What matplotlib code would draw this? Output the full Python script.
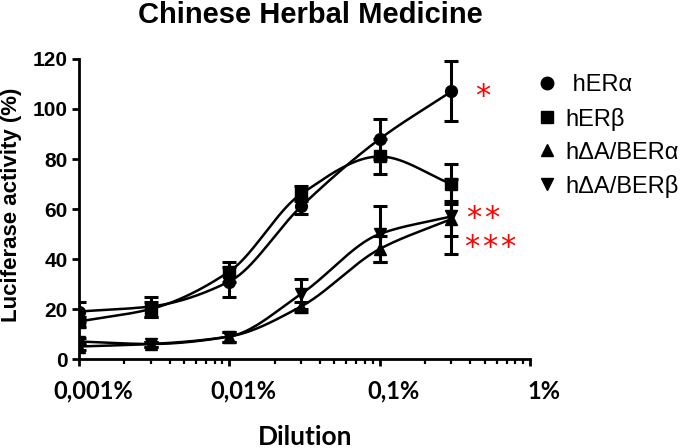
import numpy as np
import matplotlib
matplotlib.use("Agg")
import matplotlib.pyplot as plt
import matplotlib.transforms as mtransforms
from matplotlib.lines import Line2D

plt.rcParams['font.family'] = ['Liberation Sans', 'DejaVu Sans']

# ---------------- data ----------------
dilution = [0.001, 0.003, 0.01, 0.03, 0.1, 0.3]
series_names = [" hERα", "hERβ", "hΔA/BERα", "hΔA/BERβ"]
hERa_mean = [19, 21, 31, 61, 88, 107]
hERa_err = [4, 4, 6, 3, 8, 12]
hERb_mean = [15, 20, 35, 66, 81, 70]
hERb_err = [2, 3, 4, 3, 7, 8]
hdAa_mean = [5, 6, 9, 21, 44, 56]
hdAa_err = [1.5, 1, 2, 2, 5, 7]
hdAb_mean = [7, 6, 9, 26, 50, 57]
hdAb_err = [1.5, 1, 2, 6, 11, 15]
markers = ["o", "s", "^", "v"]
xtick_vals = [0.001, 0.01, 0.1, 1]
xtick_labels = ["0,001%", "0,01%", "0,1%", "1%"]
yticks = [0, 20, 40, 60, 80, 100, 120]
sig_counts = [1, 2, 3]          # number of asterisks
sig_y = [108.6, 59.8, 48.2]
sig_first_dx_px = [31, 22, 20]  # offset of first asterisk from the last point
sig_pitch_px = 18


def pchip(xk, yk, xn):
    xk = np.asarray(xk, float); yk = np.asarray(yk, float)
    h = np.diff(xk); d = np.diff(yk) / h
    n = len(xk); m = np.zeros(n)
    for k in range(1, n - 1):
        if d[k - 1] * d[k] <= 0:
            m[k] = 0
        else:
            w1 = 2 * h[k] + h[k - 1]; w2 = h[k] + 2 * h[k - 1]
            m[k] = (w1 + w2) / (w1 / d[k - 1] + w2 / d[k])
    m[0] = d[0]; m[-1] = d[-1]
    out = np.empty_like(xn)
    idx = np.clip(np.searchsorted(xk, xn) - 1, 0, n - 2)
    for j, (x, i) in enumerate(zip(xn, idx)):
        t = (x - xk[i]) / h[i]
        h00 = 2 * t**3 - 3 * t**2 + 1; h10 = t**3 - 2 * t**2 + t
        h01 = -2 * t**3 + 3 * t**2; h11 = t**3 - t**2
        out[j] = h00 * yk[i] + h10 * h[i] * m[i] + h01 * yk[i + 1] + h11 * h[i] * m[i + 1]
    return out


W, H = 685, 448
fig = plt.figure(figsize=(W / 100, H / 100), dpi=100)
ax = fig.add_axes([79 / W, (H - 359) / H, (530 - 79) / W, 300 / H])

means = [hERa_mean, hERb_mean, hdAa_mean, hdAb_mean]
errs = [hERa_err, hERb_err, hdAa_err, hdAb_err]
lx = np.log10(dilution)
xs = np.linspace(lx[0], lx[-1], 300)
for mean, err, mk in zip(means, errs, markers):
    ys = pchip(lx, mean, xs)
    ax.plot(10 ** xs, ys, color='black', lw=1.8, zorder=2)
    ax.errorbar(dilution, mean, yerr=err, fmt=mk, color='black', ms=8.5,
                elinewidth=2.2, capsize=5, capthick=2.2, zorder=3)

ax.set_xscale('log')
ax.set_xlim(0.001, 1)
ax.set_ylim(0, 120)
ax.set_yticks(yticks)
ax.set_yticklabels([str(v) for v in yticks], fontsize=15, fontweight='bold')
ax.set_xticks(xtick_vals)
ax.set_xticklabels(xtick_labels, fontsize=17, fontweight='bold', family=['Lato', 'DejaVu Sans'])
ax.xaxis.set_minor_locator(matplotlib.ticker.LogLocator(base=10, subs=np.arange(2, 10)))
ax.xaxis.set_minor_formatter(matplotlib.ticker.NullFormatter())
ax.tick_params(axis='both', which='major', length=5, width=2, direction='out')
ax.tick_params(axis='x', which='minor', length=3.5, width=1.6, direction='out')
ax.tick_params(axis='x', which='major', pad=10)
ax.tick_params(axis='y', which='major', pad=3)
offset = mtransforms.ScaledTranslation(14 / 100, 0, fig.dpi_scale_trans)
for lab in ax.get_xticklabels():
    lab.set_transform(lab.get_transform() + offset)
for s in ['top', 'right']:
    ax.spines[s].set_visible(False)
for s in ['left', 'bottom']:
    ax.spines[s].set_linewidth(2)

ax.set_ylabel("Luciferase activity (%)", fontsize=16, fontweight='bold')
ax.yaxis.set_label_coords(-0.126, 0.513)

for n, yv, dx0 in zip(sig_counts, sig_y, sig_first_dx_px):
    for k in range(n):
        dx = dx0 + k * sig_pitch_px
        ax.annotate("*", xy=(dilution[-1], yv), xytext=(dx / 1.389, -9 / 1.389),
                    textcoords='offset points', color='red', fontsize=22,
                    family=['DejaVu Sans'], ha='center', va='center',
                    annotation_clip=False)

fig.text(310 / W, 1 - 15 / H, "Chinese Herbal Medicine", fontsize=21, fontweight='bold',
         ha='center', va='center')
fig.text(305 / W, 1 - 437 / H, "Dilution", fontsize=19, fontweight='bold',
         ha='center', va='center', family=['Lato', 'DejaVu Sans'])

handles = [Line2D([], [], marker=mk, color='black', ls='none', ms=9) for mk in markers]
fig.legend(handles, series_names, loc='upper left', bbox_to_anchor=(528 / W, 1 - 65 / H),
           frameon=False, fontsize=17, handlelength=0.8, handletextpad=0.4,
           labelspacing=0.47, borderaxespad=0)

fig.savefig("out.png", dpi=100)
